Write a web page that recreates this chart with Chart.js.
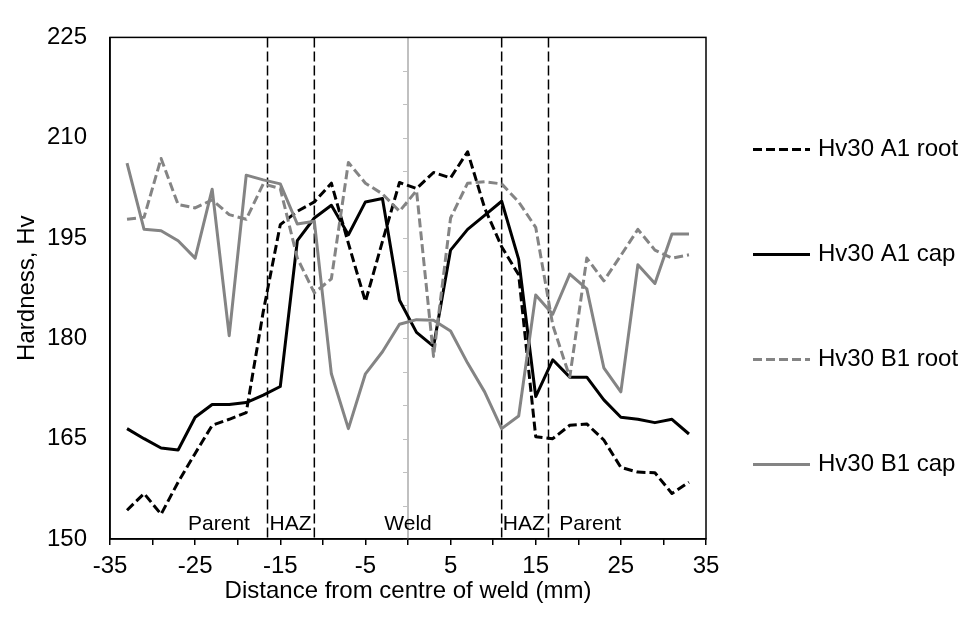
<!DOCTYPE html>
<html>
<head>
<meta charset="utf-8">
<script src="https://cdn.jsdelivr.net/npm/chart.js@4.4.0/dist/chart.umd.min.js"></script>
<style>
  html, body { margin: 0; padding: 0; background: #fff; }
</style>
</head>
<body>
<canvas id="myChart" width="967" height="619"></canvas>
<script>
// measurement positions (mm from weld centre)
const distance = [-33, -31, -29, -27, -25, -23, -21, -19, -17, -15, -13, -11, -9, -7, -5, -3, -1,
                  1, 3, 5, 7, 9, 11, 13, 15, 17, 19, 21, 23, 25, 27, 29, 31, 33];

// hardness readings, Hv
const a1Root = [154.3, 156.8, 153.7, 158.5, 162.8, 167.0, 167.9, 168.9, 184.0, 197.0, 199.0, 200.4, 203.2, 194.2, 185.5, 194.5, 203.3,
                202.4, 204.8, 204.0, 207.9, 199.5, 193.7, 189.5, 165.3, 165.0, 167.0, 167.2, 164.8, 160.7, 160.0, 159.9, 156.8, 158.5];
const a1Cap = [166.5, 165.0, 163.6, 163.3, 168.2, 170.1, 170.1, 170.4, 171.5, 172.8, 194.6, 198.0, 199.9, 195.5, 200.4, 200.9, 185.7,
               180.9, 178.8, 193.2, 196.3, 198.4, 200.5, 191.8, 171.3, 176.8, 174.2, 174.2, 170.8, 168.2, 167.9, 167.4, 167.9, 165.7];
const b1Root = [197.8, 198.1, 206.9, 200.0, 199.5, 200.7, 198.5, 197.8, 203.1, 202.4, 192.0, 186.8, 188.9, 206.3, 203.2, 201.6, 199.0,
                202.1, 177.3, 198.0, 203.2, 203.4, 203.1, 200.4, 196.6, 182.0, 174.2, 192.0, 188.6, 192.4, 196.3, 193.2, 192.0, 192.5];
const b1Cap = [206.2, 196.3, 196.1, 194.6, 192.0, 202.3, 180.4, 204.4, 203.7, 203.1, 197.1, 197.5, 174.7, 166.5, 174.7, 178.0, 182.1,
               182.8, 182.7, 181.1, 176.3, 172.0, 166.5, 168.4, 186.5, 183.6, 189.6, 187.4, 175.6, 172.0, 191.0, 188.2, 195.6, 195.6];

const seriesNames = ['Hv30 A1 root', 'Hv30 A1 cap', 'Hv30 B1 root', 'Hv30 B1 cap'];

// weld zones
const zoneEdges = [-16.5, -11, 11, 16.5];
const zoneNames = ['Parent', 'HAZ', 'Weld', 'HAZ', 'Parent'];
const zoneLabelX = [-22.2, -13.8, 0, 13.6, 21.4];
const centreLine = 0;

const fontFamily = "'Liberation Sans', Arial, sans-serif";
Chart.defaults.font.family = fontFamily;
Chart.defaults.font.size = 24;
Chart.defaults.color = '#000';

function toPoints(vals) {
    return distance.map((d, i) => ({x: d, y: vals[i]}));
}

const weldMarks = {
    id: 'weldMarks',
    beforeDatasetsDraw(chart) {
        const {ctx, chartArea: a, scales: {x, y}} = chart;
        ctx.save();
        // light centre line with its small ticks
        const cx = x.getPixelForValue(centreLine);
        ctx.strokeStyle = '#c0c0c0';
        ctx.lineWidth = 2;
        ctx.beginPath();
        ctx.moveTo(cx, a.top);
        ctx.lineTo(cx, a.bottom);
        ctx.stroke();
        ctx.lineWidth = 1;
        for (let v = y.min; v <= y.max; v += 5) {
            const py = Math.round(y.getPixelForValue(v)) + 0.5;
            ctx.beginPath();
            ctx.moveTo(cx - 5, py);
            ctx.lineTo(cx, py);
            ctx.stroke();
        }
        // zone boundaries
        ctx.strokeStyle = '#000';
        ctx.lineWidth = 1.5;
        ctx.setLineDash([10, 4]);
        zoneEdges.forEach(e => {
            const px = x.getPixelForValue(e);
            ctx.beginPath();
            ctx.moveTo(px, a.top);
            ctx.lineTo(px, a.bottom);
            ctx.stroke();
        });
        ctx.setLineDash([]);
        // zone names
        ctx.fillStyle = '#000';
        ctx.font = '21px ' + fontFamily;
        ctx.textAlign = 'center';
        ctx.textBaseline = 'alphabetic';
        zoneNames.forEach((n, i) => {
            ctx.fillText(n, x.getPixelForValue(zoneLabelX[i]), a.bottom - 9);
        });
        ctx.restore();
    },
    afterDraw(chart) {
        const {ctx, chartArea: a} = chart;
        ctx.save();
        // frame round the plot
        ctx.strokeStyle = '#000';
        ctx.lineWidth = 1.5;
        ctx.strokeRect(a.left, a.top, a.right - a.left, a.bottom - a.top);
        // legend on the right
        ctx.font = '24px ' + fontFamily;
        ctx.fillStyle = '#000';
        ctx.textAlign = 'left';
        ctx.textBaseline = 'middle';
        chart.data.datasets.forEach((ds, i) => {
            const ly = a.top + 112 + i * 105;
            ctx.strokeStyle = ds.borderColor;
            ctx.lineWidth = 3;
            ctx.setLineDash(ds.borderDash || []);
            ctx.beginPath();
            ctx.moveTo(a.right + 47, ly);
            ctx.lineTo(a.right + 104, ly);
            ctx.stroke();
            ctx.setLineDash([]);
            ctx.fillText(ds.label, a.right + 112, ly);
        });
        ctx.restore();
    }
};

const ctx = document.getElementById('myChart').getContext('2d');
const chart = new Chart(ctx, {
    type: 'line',
    data: {
        datasets: [
            { label: seriesNames[0], data: toPoints(a1Root), borderColor: '#000000', borderDash: [9, 4], order: 4 },
            { label: seriesNames[1], data: toPoints(a1Cap), borderColor: '#000000', order: 3 },
            { label: seriesNames[2], data: toPoints(b1Root), borderColor: '#848484', borderDash: [9, 4], order: 2 },
            { label: seriesNames[3], data: toPoints(b1Cap), borderColor: '#848484', order: 1 }
        ]
    },
    options: {
        responsive: false,
        animation: false,
        devicePixelRatio: 1,
        layout: { padding: { left: 0, top: 20, right: 261, bottom: 0 } },
        elements: {
            line: { borderWidth: 3, tension: 0, fill: false, borderJoinStyle: 'round' },
            point: { radius: 0, hoverRadius: 0 }
        },
        plugins: {
            legend: { display: false },
            tooltip: { enabled: false }
        },
        scales: {
            x: {
                type: 'linear',
                min: -35,
                max: 35,
                ticks: {
                    stepSize: 5,
                    autoSkip: false,
                    maxRotation: 0,
                    padding: 7,
                    callback: v => ((v + 35) % 10 === 0 ? v : '')
                },
                grid: { drawOnChartArea: false, drawTicks: true, tickLength: 6, color: '#000', lineWidth: 1.5 },
                border: { color: '#000', width: 1.5 },
                title: { display: true, text: 'Distance from centre of weld (mm)', padding: { top: 4, bottom: 13 } },
                afterFit: s => { s.height = 80; }
            },
            y: {
                min: 150,
                max: 225,
                ticks: { stepSize: 15, padding: 23 },
                grid: { display: false, drawTicks: false },
                border: { color: '#000', width: 1.5 },
                title: { display: true, text: 'Hardness, Hv', padding: { top: 13, bottom: 0 } },
                afterFit: s => { s.width = 110; }
            }
        }
    },
    plugins: [weldMarks]
});
</script>
</body>
</html>
